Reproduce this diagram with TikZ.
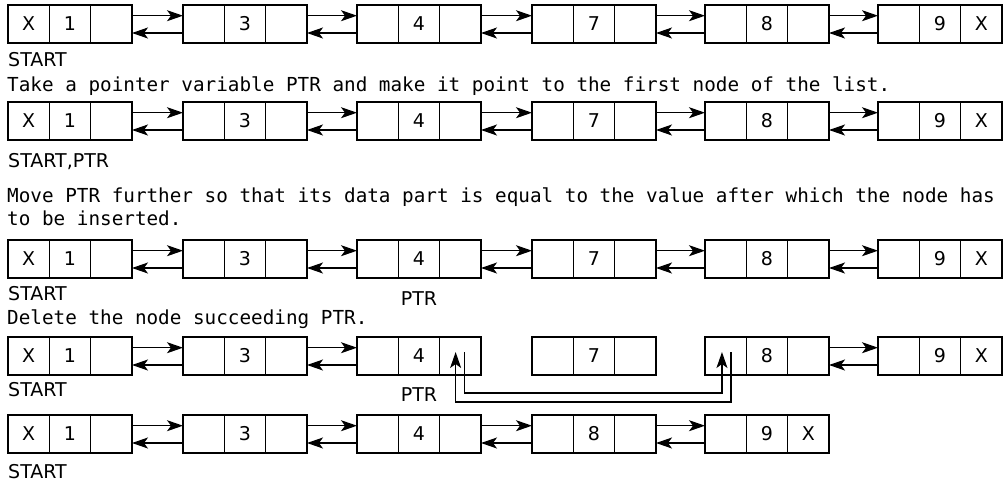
\documentclass[tikz,border=0pt]{standalone}
\usepackage{fontspec}
\usetikzlibrary{arrows.meta, positioning}
\newfontfamily\cellfont{DejaVu Sans}
\newfontfamily\stepfont{DejaVu Sans Mono}

% one list node: name, left x, top y, prev, data, next
\newcommand{\listnode}[6]{%
  \node[cell, anchor=north west] (#1-p) at (#2,-#3) {#4};
  \node[cell, right=0pt of #1-p] (#1-d) {#5};
  \node[cell, right=0pt of #1-d] (#1-n) {#6};}
% next and prev pointers between two list nodes
\newcommand{\dlink}[2]{%
  \draw[arrow] ([yshift=8.3pt]#1-n.east) -- ([yshift=8.3pt]#2-p.west);
  \draw[arrow] ([yshift=-9pt]#2-p.west) -- ([yshift=-9pt]#1-n.east);}

\begin{document}
\begin{tikzpicture}[
    x=1pt, y=1pt,
    cell/.style={rectangle, draw, line width=1.25pt, minimum width=41.33pt, minimum height=38pt, inner sep=0pt, outer sep=0pt, font=\cellfont\fontsize{19}{21}\selectfont},
    arrow/.style={-{Stealth[length=16pt, width=11pt, inset=4pt]}, line width=1.2pt},
    ptrlabel/.style={anchor=base, inner sep=0pt, font=\cellfont\fontsize{19}{21}\selectfont},
    steptext/.style={anchor=base west, inner sep=0pt, font=\stepfont\fontsize{19.3}{23}\selectfont},
]
\useasboundingbox (0,0) rectangle (1006,-483);

% Initial list
\listnode{r1a}{8}{5}{X}{1}{}
\listnode{r1b}{183}{5}{}{3}{}
\listnode{r1c}{357}{5}{}{4}{}
\listnode{r1d}{532}{5}{}{7}{}
\listnode{r1e}{705}{5}{}{8}{}
\listnode{r1f}{878}{5}{}{9}{X}
\dlink{r1a}{r1b} \dlink{r1b}{r1c} \dlink{r1c}{r1d} \dlink{r1d}{r1e} \dlink{r1e}{r1f}
\node[ptrlabel, anchor=base west] (start1) at ([yshift=-23pt]r1a-p.south west) {START};
\node[steptext] (step1) at (7,-91) {Take a pointer variable PTR and make it point to the first node of the list.};

% PTR at first node
\listnode{r2a}{8}{102}{X}{1}{}
\listnode{r2b}{183}{102}{}{3}{}
\listnode{r2c}{357}{102}{}{4}{}
\listnode{r2d}{532}{102}{}{7}{}
\listnode{r2e}{705}{102}{}{8}{}
\listnode{r2f}{878}{102}{}{9}{X}
\dlink{r2a}{r2b} \dlink{r2b}{r2c} \dlink{r2c}{r2d} \dlink{r2d}{r2e} \dlink{r2e}{r2f}
\node[ptrlabel, anchor=base west] (start2) at ([yshift=-27pt]r2a-p.south west) {START,PTR};
\node[steptext] (step2a) at (7,-202) {Move PTR further so that its data part is equal to the value after which the node has};
\node[steptext] (step2b) at (7,-225.5) {to be inserted.};

% PTR moved to 4
\listnode{r3a}{8}{240}{X}{1}{}
\listnode{r3b}{183}{240}{}{3}{}
\listnode{r3c}{357}{240}{}{4}{}
\listnode{r3d}{532}{240}{}{7}{}
\listnode{r3e}{705}{240}{}{8}{}
\listnode{r3f}{878}{240}{}{9}{X}
\dlink{r3a}{r3b} \dlink{r3b}{r3c} \dlink{r3c}{r3d} \dlink{r3d}{r3e} \dlink{r3e}{r3f}
\node[ptrlabel, anchor=base west] (start3) at ([yshift=-22pt]r3a-p.south west) {START};
\node[ptrlabel] (ptr3) at ([yshift=-27pt]r3c-d.south) {PTR};
\node[steptext] (step3) at (7,-324.3) {Delete the node succeeding PTR.};

% Node 7 unlinked
\listnode{r4a}{8}{337}{X}{1}{}
\listnode{r4b}{183}{337}{}{3}{}
\listnode{r4c}{357}{337}{}{4}{}
\listnode{r4d}{532}{337}{}{7}{}
\listnode{r4e}{705}{337}{}{8}{}
\listnode{r4f}{878}{337}{}{9}{X}
\dlink{r4a}{r4b} \dlink{r4b}{r4c} \dlink{r4e}{r4f}
\node[ptrlabel, anchor=base west] (start4) at ([yshift=-21pt]r4a-p.south west) {START};
\node[ptrlabel] (ptr4) at ([yshift=-26.7pt]r4c-d.south) {PTR};
\draw[arrow] ([xshift=5.3pt, yshift=4pt]r4e-p.center) -- ++(0,-50) -| ([xshift=-4.7pt, yshift=4pt]r4c-n.center);
\draw[arrow] ([xshift=4.3pt, yshift=4pt]r4c-n.center) -- ++(0,-41) -| ([xshift=-3.7pt, yshift=4pt]r4e-p.center);

% Resulting list
\listnode{r5a}{8}{415}{X}{1}{}
\listnode{r5b}{183}{415}{}{3}{}
\listnode{r5c}{357}{415}{}{4}{}
\listnode{r5d}{532}{415}{}{8}{}
\listnode{r5e}{705}{415}{}{9}{X}
\dlink{r5a}{r5b} \dlink{r5b}{r5c} \dlink{r5c}{r5d} \dlink{r5d}{r5e}
\node[ptrlabel, anchor=base west] (start5) at ([yshift=-25.5pt]r5a-p.south west) {START};

\end{tikzpicture}
\end{document}
